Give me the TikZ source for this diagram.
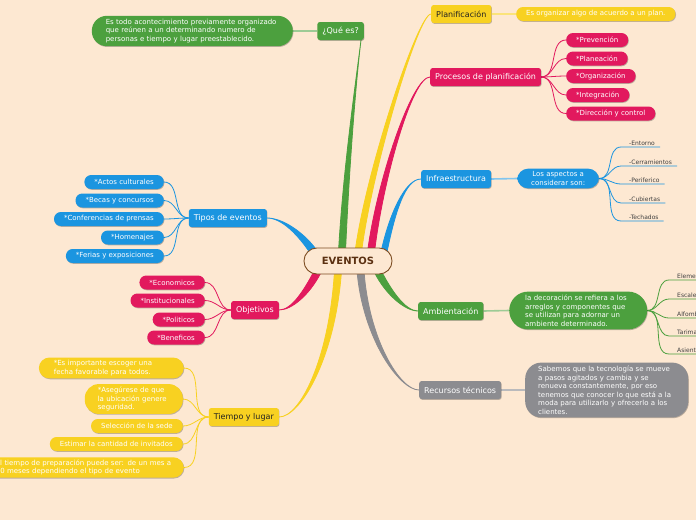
\documentclass[tikz,border=0pt]{standalone}
\usepackage{fontspec}
\setmainfont{DejaVu Sans}
\usetikzlibrary{calc,shadows}
\pgfdeclarelayer{back}
\pgfsetlayers{back,main}
\definecolor{bgc}{HTML}{FDE8D2}
\definecolor{cgreen}{HTML}{4CA03E}
\definecolor{cyellow}{HTML}{F8D121}
\definecolor{cpink}{HTML}{E2195E}
\definecolor{cblue}{HTML}{1B95E0}
\definecolor{cgray}{HTML}{8C8C90}
\definecolor{brownb}{HTML}{7B4B20}
\definecolor{brownt}{HTML}{5B3011}
\definecolor{ink}{HTML}{222222}
\newcommand\taper[7]{\filldraw[fill=#1,draw=#1,line width=0.8pt,line join=round] #2 .. controls #3 and #6 .. #7 .. controls #6 and #5 .. #4 -- cycle;}
\tikzset{
 shd/.style={drop shadow={shadow xshift=0.6pt,shadow yshift=-0.8pt,opacity=0.25,fill=black}},
 central/.style={draw=brownb,line width=0.9pt,fill=bgc,rounded corners=12.9pt,minimum width=88pt,minimum height=26pt,inner sep=0pt,font=\fontsize{10}{12}\selectfont\bfseries,text=brownt},
 br/.style={shd,rounded corners=2.5pt,minimum height=18pt,inner xsep=5pt,inner ysep=0pt,font=\fontsize{8}{9.6}\selectfont,text=white},
 lf/.style={shd,rounded corners=6.8pt,minimum height=14pt,inner xsep=10pt,inner ysep=0pt,font=\fontsize{7}{8.5}\selectfont,text=white},
 ds/.style={shd,text=white,align=left,font=\fontsize{7}{8.5}\selectfont,inner ysep=3.3pt},
 ul/.style={font=\fontsize{6}{7}\selectfont,text=black!75,inner xsep=0pt,inner ysep=1.5pt,anchor=south west},
 con/.style={line width=0.8pt},
 sec/.style={line width=1.6pt}
}
\begin{document}
\begin{tikzpicture}[x=1pt,y=1pt]
\useasboundingbox (0,0) rectangle (696,-520);
% central
\node[central] (ev) at (348,-261) {EVENTOS};
% Que es
\node[br,fill=cgreen,anchor=east] (q) at (364,-31) {¿Qué es?};
\node[ds,fill=cgreen,anchor=east,text width=173pt,inner xsep=14pt,rounded corners=15pt] (qd) at (293,-31) {Es todo acontecimiento previamente organizado\\que reúnen a un determinando numero de\\personas e tiempo y lugar preestablecido.};
% Planificacion
\node[br,fill=cyellow,text=ink,anchor=west] (p) at (431,-14) {Planificación};
\node[lf,fill=cyellow,anchor=west] (pd) at (516,-14) {Es organizar algo de acuerdo a un plan.};
% Procesos
\node[br,fill=cpink,anchor=west] (pp) at (430,-77) {Procesos de planificación};
\node[lf,fill=cpink,anchor=west] (pr1) at (566,-40) {*Prevención};
\node[lf,fill=cpink,anchor=west] (pr2) at (566,-58.5) {*Planeación};
\node[lf,fill=cpink,anchor=west] (pr3) at (566,-76) {*Organización};
\node[lf,fill=cpink,anchor=west] (pr4) at (566,-95) {*Integración};
\node[lf,fill=cpink,anchor=west] (pr5) at (566,-113.5) {*Dirección y control};
% Infraestructura
\node[br,fill=cblue,anchor=west] (inf) at (421,-179) {Infraestructura};
\node[ds,fill=cblue,anchor=west,align=center,rounded corners=11pt,inner xsep=14pt,inner ysep=3pt] (asp) at (517,-178.5) {Los aspectos a\\considerar son:};
\node[ul] (in1) at (629,-147) {-Entorno};
\node[ul] (in2) at (629,-166) {-Cerramientos};
\node[ul] (in3) at (629,-184) {-Periferico};
\node[ul] (in4) at (629,-203) {-Cubiertas};
\node[ul] (in5) at (629,-221) {-Techados};
% Ambientacion
\node[br,fill=cgreen,anchor=west] (amb) at (418,-311) {Ambientación};
\node[ds,fill=cgreen,anchor=west,text width=106pt,inner xsep=16pt,rounded corners=19pt] (ad) at (509,-310.5) {la decoración se refiera a los\\arreglos y componentes que\\se utilizan para adornar un\\ambiente determinado.};
\node[ul] (am1) at (677,-280) {Elementos};
\node[ul] (am2) at (677,-299) {Escaleras};
\node[ul] (am3) at (677,-318) {Alfombras};
\node[ul] (am4) at (677,-336) {Tarimas};
\node[ul] (am5) at (677,-354) {Asientos};
% Recursos
\node[br,fill=cgray,anchor=west] (rt) at (419,-390) {Recursos técnicos};
\node[ds,fill=cgray,anchor=west,text width=137pt,inner xsep=13pt,rounded corners=16pt] (rd) at (525,-390) {Sabemos que la tecnología se mueve\\a pasos agitados y cambia y se\\renueva constantemente, por eso\\tenemos que conocer lo que está a la\\moda para utilizarlo y ofrecerlo a los\\clientes.};
% Tipos
\node[br,fill=cblue,anchor=east] (tip) at (267,-218) {Tipos de eventos};
\node[lf,fill=cblue,anchor=east] (ti1) at (164,-182) {*Actos culturales};
\node[lf,fill=cblue,anchor=east] (ti2) at (164,-200.5) {*Becas y concursos};
\node[lf,fill=cblue,anchor=east] (ti3) at (164,-219) {*Conferencias de prensas};
\node[lf,fill=cblue,anchor=east] (ti4) at (164,-237.5) {*Homenajes};
\node[lf,fill=cblue,anchor=east] (ti5) at (164,-256) {*Ferias y exposiciones};
% Objetivos
\node[br,fill=cpink,anchor=east] (obj) at (279,-310) {Objetivos};
\node[lf,fill=cpink,anchor=east] (ob1) at (205,-282.5) {*Economicos};
\node[lf,fill=cpink,anchor=east] (ob2) at (205,-300.5) {*Institucionales};
\node[lf,fill=cpink,anchor=east] (ob3) at (205,-319.5) {*Politicos};
\node[lf,fill=cpink,anchor=east] (ob4) at (205,-337.5) {*Beneficos};
% Tiempo
\node[br,fill=cyellow,text=ink,anchor=east] (tl) at (279,-417) {Tiempo y lugar};
\node[ds,fill=cyellow,anchor=east,text width=115pt,inner xsep=15pt,rounded corners=10.8pt,inner ysep=2.6pt,font=\fontsize{7}{9}\selectfont] (tl1) at (184,-368) {*Es importante escoger una\\fecha favorable para todos.};
\node[ds,fill=cyellow,anchor=east,text width=72pt,inner xsep=13pt,rounded corners=14pt,inner ysep=2.6pt,font=\fontsize{7}{8.8}\selectfont] (tl2) at (183,-399) {*Asegúrese de que\\la ubicación genere\\seguridad.};
\node[lf,fill=cyellow,anchor=east] (tl3) at (183,-426) {Selección de la sede};
\node[lf,fill=cyellow,anchor=east] (tl4) at (183,-444) {Estimar la cantidad de invitados};
\node[ds,fill=cyellow,anchor=east,text width=176pt,inner xsep=12pt,rounded corners=10.5pt,inner ysep=2.4pt,font=\fontsize{7}{8.6}\selectfont] (tl5) at (184,-467.5) {El tiempo de preparación puede ser: de un mes a\\10 meses dependiendo el tipo de evento};
% connectors
\begin{pgfonlayer}{back}
\fill[bgc] (0,0) rectangle (696,-520);
\taper{cgreen}{($(ev.center)+(-9.5,9)$)}{(343,-170)}{($(ev.center)+(-2.5,9)$)}{(349,-170)}{(356,-80)}{($(q.south east)+(-3,0)$)}
\taper{cyellow}{($(ev.center)+(7,9)$)}{(366,-170)}{($(ev.center)+(13.5,9)$)}{(372,-170)}{(418,-14)}{(p.west)}
\taper{cpink}{($(ev.center)+(19.5,9)$)}{(377,-180)}{($(ev.center)+(26.5,9)$)}{(383,-180)}{(412,-77)}{(pp.west)}
\taper{cblue}{($(ev.center)+(33,9)$)}{(389,-215)}{($(ev.center)+(39,9)$)}{(395,-213)}{(405,-179)}{(inf.west)}
\taper{cblue}{($(ev.center)+(-32.5,12.5)$)}{(302,-231)}{($(ev.center)+(-37.5,7.5)$)}{(298,-235)}{(282,-218)}{(tip.east)}
\taper{cpink}{($(ev.center)+(-27.5,-12.5)$)}{(309.5,-294.5)}{($(ev.center)+(-32.5,-7.5)$)}{(304.5,-289.5)}{(292,-310)}{(obj.east)}
\taper{cyellow}{($(ev.center)+(-13.5,-10)$)}{(329,-360)}{($(ev.center)+(-6.5,-10)$)}{(335,-360)}{(300,-417)}{(tl.east)}
\taper{cgray}{($(ev.center)+(9,-10)$)}{(363,-340)}{($(ev.center)+(16,-10)$)}{(369,-340)}{(400,-390)}{(rt.west)}
\taper{cgreen}{($(ev.center)+(31.5,-6.5)$)}{(390.5,-289.5)}{($(ev.center)+(26.5,-11.5)$)}{(385.5,-294.5)}{(405,-311)}{(amb.west)}
\draw[sec,cgreen!55!white] (q.west) -- (qd.east);
\draw[sec,cyellow!60!white] (p.east) -- (pd.west);
\draw[sec,cblue!55!white] (inf.east) -- (asp.west);
\draw[sec,cgreen!55!white] (amb.east) -- (ad.west);
\draw[sec,cgray!60!white] (rt.east) -- (rd.west);
\foreach \i in {1,...,5} \draw[con,cpink] (pp.east) to[out=0,in=180] (pr\i.west);
\foreach \i in {1,...,5} \draw[con,cblue] (tip.west) to[out=180,in=0] (ti\i.east);
\foreach \i in {1,...,4} \draw[con,cpink] (obj.west) to[out=180,in=0] (ob\i.east);
\foreach \i in {1,...,5} \draw[con,cyellow] (tl.west) to[out=180,in=0] (tl\i.east);
\foreach \i in {1,...,5} \draw[con,cblue] (asp.east) to[out=0,in=180] ($(in\i.south west)+(-8,0)$) -- ($(in\i.south east)+(5,0)$);
\foreach \i in {1,...,5} \draw[con,cgreen] (ad.east) to[out=0,in=180] ($(am\i.south west)+(-8,0)$) -- ++(60,0);
\end{pgfonlayer}
\end{tikzpicture}
\end{document}
